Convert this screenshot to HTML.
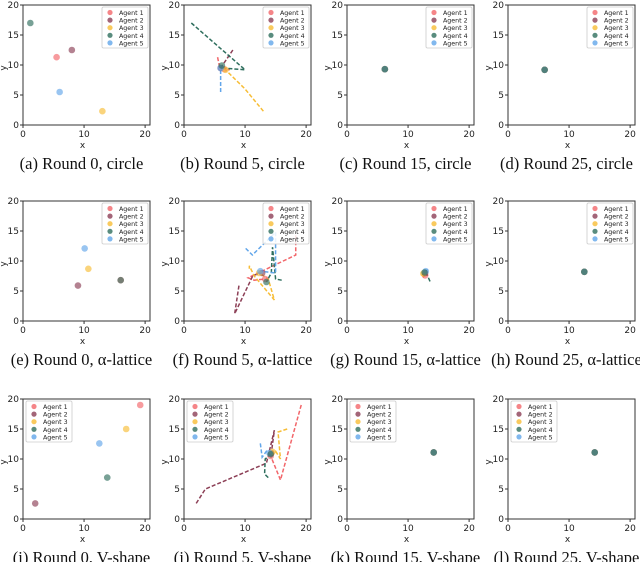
<!DOCTYPE html>
<html><head><meta charset="utf-8"><style>
body{margin:0;background:#fff;width:640px;height:562px;overflow:hidden}
svg{display:block}
</style></head><body>
<svg id="fig" width="640" height="562" xmlns="http://www.w3.org/2000/svg" font-family="DejaVu Sans, Liberation Sans, sans-serif"></svg>
<script>
const agentNames=["Agent 1","Agent 2","Agent 3","Agent 4","Agent 5"];
const agentColors=["#f2666a","#8c3f56","#f7bd36","#2f6f5e","#62a6ea"];
const xTicks=[0,10,20];
const yTicks=[0,5,10,15,20];
const captions=["(a) Round 0, circle","(b) Round 5, circle","(c) Round 15, circle","(d) Round 25, circle",
"(e) Round 0, α-lattice","(f) Round 5, α-lattice","(g) Round 15, α-lattice","(h) Round 25, α-lattice",
"(i) Round 0, V-shape","(j) Round 5, V-shape","(k) Round 15, V-shape","(l) Round 25, V-shape"];
const pathsA=[[[5.5,11.3]],[[8,12.5]],[[13,2.3]],[[1.2,17]],[[6,5.5]]];
const pathsB=[[[5.5,11.3],[5.8,9.8],[7.5,9.2],[6.6,9.3]],[[8,12.5],[6,9.5]],[[13,2.3],[10,6],[6.8,9.2]],[[1.2,17],[10,9.2],[6.3,9.5],[6.2,9.9]],[[6,5.5],[6,9.5]]];
const pathsC=[[[6.2,9.3]],[[6.2,9.3]],[[6.2,9.3]],[[6.2,9.3]],[[6.2,9.3]]];
const pathsD=[[[6,9.2]],[[6,9.2]],[[6,9.2]],[[6,9.2]],[[6,9.2]]];
const pathsE=[[[16,6.8]],[[9,5.9]],[[10.7,8.7]],[[16,6.8]],[[10.1,12.1]]];
const pathsF=[[[18.3,14.3],[18.3,11],[10.5,7.2],[11.5,6.8],[13.3,7]],[[9,5.9],[8.3,1.2],[11.3,7.6],[12.8,8]],[[10.7,8.7],[10.7,9.2],[11.5,7.5],[14.8,3.5],[13.8,7],[12.3,8]],[[16,6.8],[15,7],[14.5,12.3],[14.3,8],[13.5,6.5]],[[10.1,12.1],[11.2,11],[15,14.8],[15,8],[12.5,8.3]]];
const pathsG=[[[12.9,7.8],[12.3,7.2],[12.8,7.6]],[[12.5,8.2],[12.8,8]],[[12.2,7.6],[12.5,7.9]],[[13.6,6.6],[12.9,8.2],[12.7,8.1]],[[13.2,8.6],[12.9,8.3]]];
const pathsH=[[[12.5,8.2]],[[12.5,8.2]],[[12.5,8.2]],[[12.5,8.2]],[[12.5,8.2]]];
const pathsI=[[[19.2,19]],[[2,2.6]],[[16.9,15]],[[13.8,6.9]],[[12.5,12.6]]];
const pathsJ=[[[19.2,19],[15.8,6.5],[14.2,10.5]],[[2,2.6],[3.5,5],[13.5,9.3],[14.8,14.8],[14.3,11]],[[16.9,15],[15.4,14.5],[15.8,10],[15,11.3],[14.5,11.2]],[[13.8,6.9],[13.2,7.5],[13.3,10],[14.2,10.8]],[[12.5,12.6],[12.8,10.3],[13.5,11.3],[14,11]]];
const pathsK=[[[14.2,11.1]],[[14.2,11.1]],[[14.2,11.1]],[[14.2,11.1]],[[14.2,11.1]]];
const pathsL=[[[14.2,11.1]],[[14.2,11.1]],[[14.2,11.1]],[[14.2,11.1]],[[14.2,11.1]]];
const allPaths=[pathsA,pathsB,pathsC,pathsD,pathsE,pathsF,pathsG,pathsH,pathsI,pathsJ,pathsK,pathsL];

const NS="http://www.w3.org/2000/svg";
const fig=document.getElementById('fig');
function mk(tag,attrs,parent){const e=document.createElementNS(NS,tag);for(const k in attrs)e.setAttribute(k,attrs[k]);parent.appendChild(e);return e;}
const lefts=[23,184,347,508], tops=[5,201,399], W=127, H=120, XMAX=20.8, YMAX=20;
const drawOrder=[0,1,2,4,3];
allPaths.forEach((paths,i)=>{
  const L=lefts[i%4], T=tops[Math.floor(i/4)], row=Math.floor(i/4);
  const sx=v=>L+v/XMAX*W, sy=v=>T+H-v/YMAX*H;
  const g=mk('g',{},fig);
  
  
  paths.forEach((p,a)=>{
    if(p.length>1){
      const pl=mk('polyline',{points:p.map(q=>sx(q[0])+','+sy(q[1])).join(' '),fill:'none',stroke:agentColors[a],'stroke-width':1.5,'stroke-dasharray':'4,2'},g);
      
      
    }
  });
  drawOrder.forEach(a=>{
    const p=paths[a];
    const q=p[p.length-1];
    const c=mk('circle',{cx:sx(q[0]),cy:sy(q[1]),r:3.3,fill:agentColors[a],'fill-opacity':0.65},g);
    
    
  });
  const fr=mk('rect',{x:L,y:T,width:W,height:H,fill:'none',stroke:'#333','stroke-width':1},g);
  
  
  xTicks.forEach(t=>{
    mk('line',{x1:sx(t),x2:sx(t),y1:T+H,y2:T+H+3,stroke:'#333'},g);
    const tx=mk('text',{x:sx(t),y:T+H+12,'font-size':9,'text-anchor':'middle',fill:'#222'},g);
    tx.textContent=t;
    
    
  });
  yTicks.forEach(t=>{
    mk('line',{x1:L-3,x2:L,y1:sy(t),y2:sy(t),stroke:'#333'},g);
    const tx=mk('text',{x:L-4,y:sy(t)+3,'font-size':9,'text-anchor':'end',fill:'#222'},g);
    tx.textContent=t;
    
    
  });
  const xl=mk('text',{x:L+W/2-4,y:T+H+23,'font-size':9,'text-anchor':'middle',fill:'#222'},g);
  xl.textContent='x';
  
  
  const yl=mk('text',{x:0,y:0,'font-size':9,'text-anchor':'middle',fill:'#222',transform:`translate(${L-17},${T+H/2+3}) rotate(-90)`},g);
  yl.textContent='y';
  
  
  const lx=row===2?L+3:L+W-48, ly=T+2;
  const lg=mk('g',{},g);
  
  
  mk('rect',{x:lx,y:ly,width:46,height:41,fill:'#fff','fill-opacity':0.85,stroke:'#ccc','stroke-width':0.8,rx:1.5},lg);
  agentNames.forEach((n,a)=>{
    mk('circle',{cx:lx+8,cy:ly+5.5+a*7.6,r:2.6,fill:agentColors[a],'fill-opacity':0.8},lg);
    const t=mk('text',{x:lx+17,y:ly+8+a*7.6,'font-size':6.3,fill:'#222'},lg);
    t.textContent=n;
    
    
  });
  const cap=mk('text',{x:L+W/2-5,y:T+H+44,'font-size':16.5,'text-anchor':'middle',fill:'#111','font-family':'Liberation Serif, serif'},g);
  cap.textContent=captions[i];
  
  
});
</script>
</body></html>
